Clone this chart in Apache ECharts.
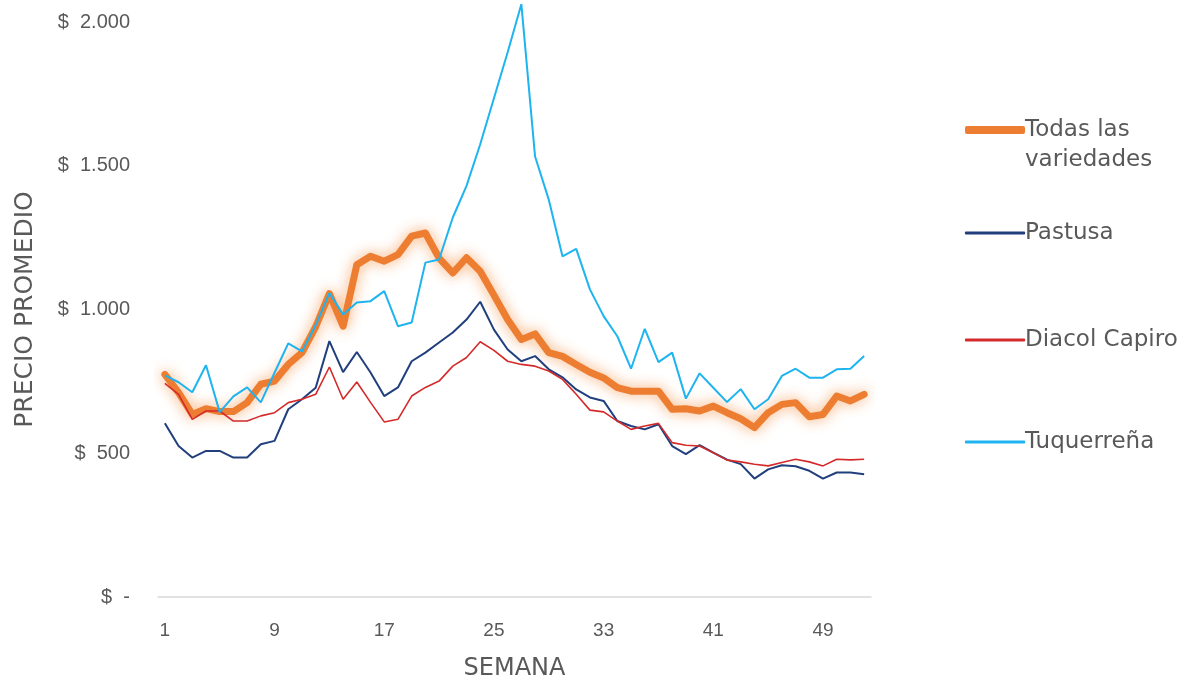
<!DOCTYPE html>
<html>
<head>
<meta charset="utf-8">
<script src="https://cdn.jsdelivr.net/npm/echarts@6/dist/echarts.min.js"></script>
<style>
html,body{margin:0;padding:0;background:#fff;}
#chart{width:1203px;height:686px;}
</style>
</head>
<body>
<div id="chart"></div>
<script>
const weeks = ['1','2','3','4','5','6','7','8','9','10','11','12','13','14','15','16','17','18','19','20','21','22','23','24','25','26','27','28','29','30','31','32','33','34','35','36','37','38','39','40','41','42','43','44','45','46','47','48','49','50','51','52'];
const yTicks = [0, 500, 1000, 1500, 2000];
const todas = [774,711,635,655,645,645,676,740,751,809,850,940,1055,942,1156,1185,1168,1191,1255,1266,1179,1127,1180,1133,1050,965,896,915,850,837,809,782,762,728,716,716,716,653,655,647,664,641,620,589,641,670,676,627,635,699,682,705];
const pastusa = [604,525,485,508,508,485,485,531,543,653,688,728,890,782,852,781,699,729,820,850,885,920,965,1027,930,861,820,838,792,764,722,694,682,612,595,583,601,525,497,528,502,478,462,412,444,458,455,439,412,433,433,427];
const diacol = [743,705,618,647,647,612,612,630,641,676,688,705,800,688,748,677,609,618,699,729,751,803,833,888,858,820,809,803,786,757,705,650,644,612,583,595,604,537,528,525,502,476,470,462,456,468,479,470,456,479,477,479];
const tuquerrena = [771,747,712,806,643,698,729,677,780,882,854,945,1057,983,1024,1029,1064,942,955,1163,1174,1320,1430,1575,1735,1895,2062,1532,1382,1185,1211,1070,977,907,794,933,817,850,690,778,728,678,723,653,688,769,794,763,763,792,794,838];
const seriesNames = ['Todas las variedades','Pastusa','Diacol Capiro','Tuquerreña'];
const legendLabels = ['Todas las','Pastusa','Diacol Capiro','Tuquerreña'];
const legendSecondLine = 'variedades';

const colors = ['#ED7D31','#213F7D','#D42A2A','#1EB4F0'];
const chart = echarts.init(document.getElementById('chart'));
const textColor = '#595959';
const legendFont = '"DejaVu Sans", sans-serif';
const tickFont = '"Liberation Sans", Arial, sans-serif';

function fmt(v){
  if (v === 0) return '$  -';
  return '$  ' + String(v).replace(/\B(?=(\d{3})+(?!\d))/g, '.');
}

const legendTops = [110, 213, 320, 422];
const legends = seriesNames.map((n, i) => ({
  data: [n],
  orient: 'vertical',
  left: 960,
  top: legendTops[i],
  itemWidth: 60,
  itemHeight: i === 0 ? 8 : 3,
  itemGap: 4,
  icon: 'roundRect',
  selectedMode: false,
  formatter: () => legendLabels[i],
  textStyle: {color: textColor, fontSize: 23, fontFamily: legendFont, lineHeight: 30, padding: [0,0,0,-5]}
}));

chart.setOption({
  animation: false,
  backgroundColor: '#fff',
  color: colors,
  grid: {left: 158, right: 332, top: 22, bottom: 88, containLabel: false},
  legend: legends,
  graphic: [{
    type: 'text', left: 1025, top: 145,
    style: {text: legendSecondLine, fill: textColor, fontSize: 23, fontFamily: legendFont, lineHeight: 30}
  }],
  xAxis: {
    type: 'category',
    data: weeks,
    boundaryGap: true,
    name: 'SEMANA',
    nameLocation: 'middle',
    nameGap: 60,
    nameTextStyle: {color: textColor, fontSize: 24, fontFamily: legendFont},
    axisLine: {lineStyle: {color: '#D9D9D9', width: 1.5}},
    axisTick: {show: false},
    axisLabel: {
      interval: 7,
      color: textColor, fontSize: 19, fontFamily: tickFont, margin: 24
    },
    splitLine: {show: false}
  },
  yAxis: {
    type: 'value',
    min: yTicks[0],
    max: yTicks[yTicks.length - 1],
    interval: 500,
    name: 'PRECIO PROMEDIO',
    nameLocation: 'middle',
    nameGap: 120,
    nameTextStyle: {color: textColor, fontSize: 25, fontFamily: legendFont},
    axisLine: {show: false},
    axisTick: {show: false},
    splitLine: {show: false},
    axisLabel: {formatter: fmt, color: textColor, fontSize: 20, fontFamily: tickFont, margin: 28}
  },
  series: [
    {
      name: seriesNames[0], type: 'line', data: todas, symbol: 'none', z: 1, clip: false,
      lineStyle: {width: 7, color: colors[0], cap: 'round', join: 'round', shadowBlur: 14, shadowColor: 'rgba(247,160,95,0.95)'},
      itemStyle: {color: colors[0]}
    },
    {
      name: seriesNames[1], type: 'line', data: pastusa, symbol: 'none', z: 2, clip: false,
      lineStyle: {width: 2, color: colors[1]}, itemStyle: {color: colors[1]}
    },
    {
      name: seriesNames[2], type: 'line', data: diacol, symbol: 'none', z: 3, clip: false,
      lineStyle: {width: 1.6, color: colors[2]}, itemStyle: {color: colors[2]}
    },
    {
      name: seriesNames[3], type: 'line', data: tuquerrena, symbol: 'none', z: 4, clip: false,
      lineStyle: {width: 2, color: colors[3]}, itemStyle: {color: colors[3]}
    }
  ]
});
</script>
</body>
</html>
